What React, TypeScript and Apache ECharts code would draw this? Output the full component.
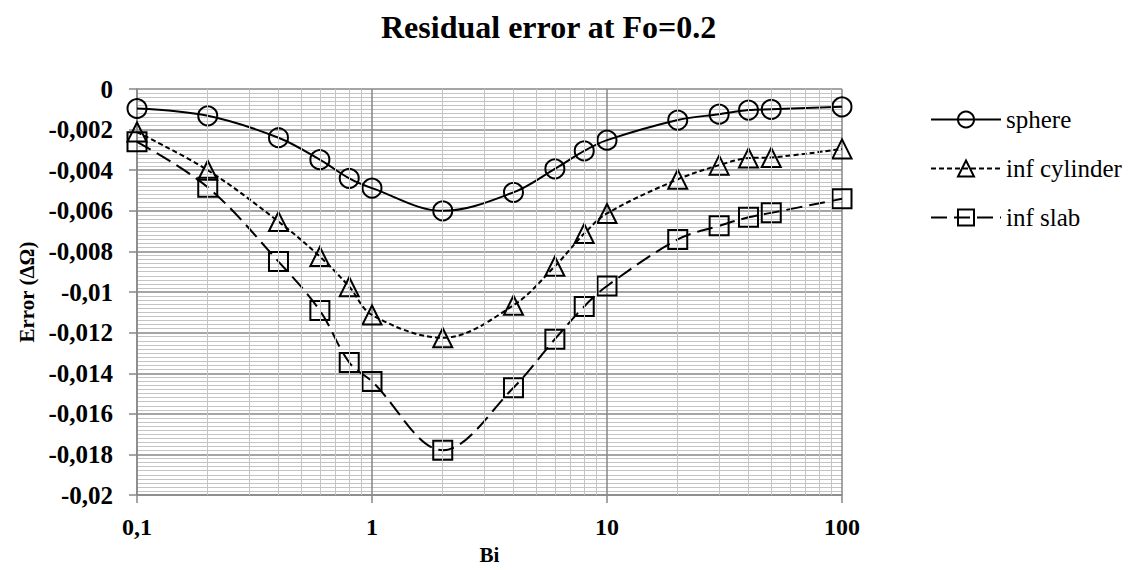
import React, { useEffect, useRef } from "react";
import * as echarts from "echarts";

const titleText = "Residual error at Fo=0.2";
const xName = "Bi";
const yName = "Error (ΔΩ)";
const seriesNames = ["sphere", "inf cylinder", "inf slab"];
const biValues = [0.1, 0.2, 0.4, 0.6, 0.8, 1, 2, 4, 6, 8, 10, 20, 30, 40, 50, 100];
const sphere = [-0.00096, -0.00132, -0.0024, -0.00348, -0.0044, -0.00488, -0.006, -0.00509, -0.00393, -0.00305, -0.00252, -0.00153, -0.00124, -0.00104, -0.001, -0.00088];
const cylinder = [-0.00212, -0.004, -0.00653, -0.00825, -0.00974, -0.01113, -0.01225, -0.01065, -0.00873, -0.00712, -0.00613, -0.00445, -0.00375, -0.0034, -0.00337, -0.00295];
const slab = [-0.0026, -0.00484, -0.0085, -0.01091, -0.01347, -0.0144, -0.01779, -0.01471, -0.01232, -0.01071, -0.0097, -0.00741, -0.00674, -0.00632, -0.0061, -0.00541];
const minorXLines = [0.2, 0.3, 0.4, 0.5, 0.6, 0.7, 0.8, 0.9, 2, 3, 4, 5, 6, 7, 8, 9, 20, 30, 40, 50, 60, 70, 80, 90];
const yMin = -0.02;
const yMax = 0;
const yStep = 0.002;

const FONT = "'Liberation Serif', 'Times New Roman', serif";
const MAJOR = "#878787";
const MINOR = "#c4c4c4";

const fmtComma = (v: number) => {
  if (Math.abs(v) < 1e-12) return "0";
  return String(parseFloat(v.toFixed(5))).replace(".", ",");
};

export default function App() {
  const ref = useRef<HTMLDivElement>(null);
  useEffect(() => {
    if (!ref.current) return;
    const chart = echarts.init(ref.current, null, { renderer: "svg" });
    const pairs = (arr: number[]) => biValues.map((x, i) => [x, arr[i]]);
    const base = {
      type: "line",
      smooth: 0.35,
      symbolSize: 19,
      z: 3,
      itemStyle: { color: "rgba(0,0,0,0)", borderColor: "#000", borderWidth: 2 },
    };
    chart.setOption({
      animation: false,
      title: {
        text: titleText,
        left: 376,
        top: 6,
        textStyle: { fontFamily: FONT, fontSize: 32, fontWeight: "bold", color: "#000" },
      },
      grid: { left: 137, right: 288, top: 89, bottom: 65 },
      legend: {
        orient: "vertical",
        left: 925,
        top: 102,
        itemWidth: 70,
        itemHeight: 20,
        itemGap: 24,
        data: seriesNames,
        textStyle: { fontFamily: FONT, fontSize: 25, color: "#000" },
      },
      xAxis: {
        type: "log",
        logBase: 10,
        min: 0.1,
        max: 100,
        name: xName,
        nameLocation: "middle",
        nameGap: 40,
        nameTextStyle: { fontFamily: FONT, fontSize: 21, fontWeight: "bold", color: "#000" },
        axisLine: { show: true, onZero: false, lineStyle: { color: MAJOR, width: 1.5 } },
        axisTick: { show: true, length: 8, lineStyle: { color: MAJOR, width: 1.5 } },
        axisLabel: {
          margin: 20,
          fontFamily: FONT,
          fontSize: 24,
          fontWeight: "bold",
          color: "#000",
          formatter: (v: number) => fmtComma(v),
        },
        splitLine: { show: true, lineStyle: { color: MAJOR, width: 1.5 } },
      },
      yAxis: {
        type: "value",
        min: yMin,
        max: yMax,
        interval: yStep,
        name: yName,
        nameLocation: "middle",
        nameGap: 100,
        nameRotate: 90,
        nameTextStyle: { fontFamily: FONT, fontSize: 21, fontWeight: "bold", color: "#000" },
        axisLine: { show: true, lineStyle: { color: MAJOR, width: 1.5 } },
        axisTick: { show: true, length: 8, lineStyle: { color: MAJOR, width: 1.5 } },
        axisLabel: {
          margin: 24,
          fontFamily: FONT,
          fontSize: 25,
          fontWeight: "bold",
          color: "#000",
          formatter: (v: number) => fmtComma(v),
        },
        splitLine: { show: true, lineStyle: { color: MAJOR, width: 1.5 } },
        minorTick: { show: false, splitNumber: 10 },
        minorSplitLine: { show: true, lineStyle: { color: MINOR, width: 1 } },
      },
      series: [
        {
          name: "_minor",
          type: "line",
          data: [],
          z: 1,
          silent: true,
          markLine: {
            silent: true,
            symbol: ["none", "none"],
            label: { show: false },
            emphasis: { disabled: true },
            lineStyle: { color: MINOR, width: 1, type: "solid" },
            data: minorXLines.map((x) => ({ xAxis: x })),
          },
        },
        {
          ...base,
          name: seriesNames[0],
          symbol: "circle",
          data: pairs(sphere),
          lineStyle: { color: "#000", width: 2, type: "solid" },
        },
        {
          ...base,
          name: seriesNames[1],
          symbol: "triangle",
          data: pairs(cylinder),
          lineStyle: { color: "#000", width: 2, type: [5, 3] },
        },
        {
          ...base,
          name: seriesNames[2],
          symbol: "rect",
          data: pairs(slab),
          lineStyle: { color: "#000", width: 2, type: [16, 7] },
        },
      ],
    });
    return () => chart.dispose();
  }, []);
  return (
    <div
      ref={ref}
      style={{ position: "fixed", left: 0, top: 0, width: 1130, height: 570, background: "#fff" }}
    />
  );
}
